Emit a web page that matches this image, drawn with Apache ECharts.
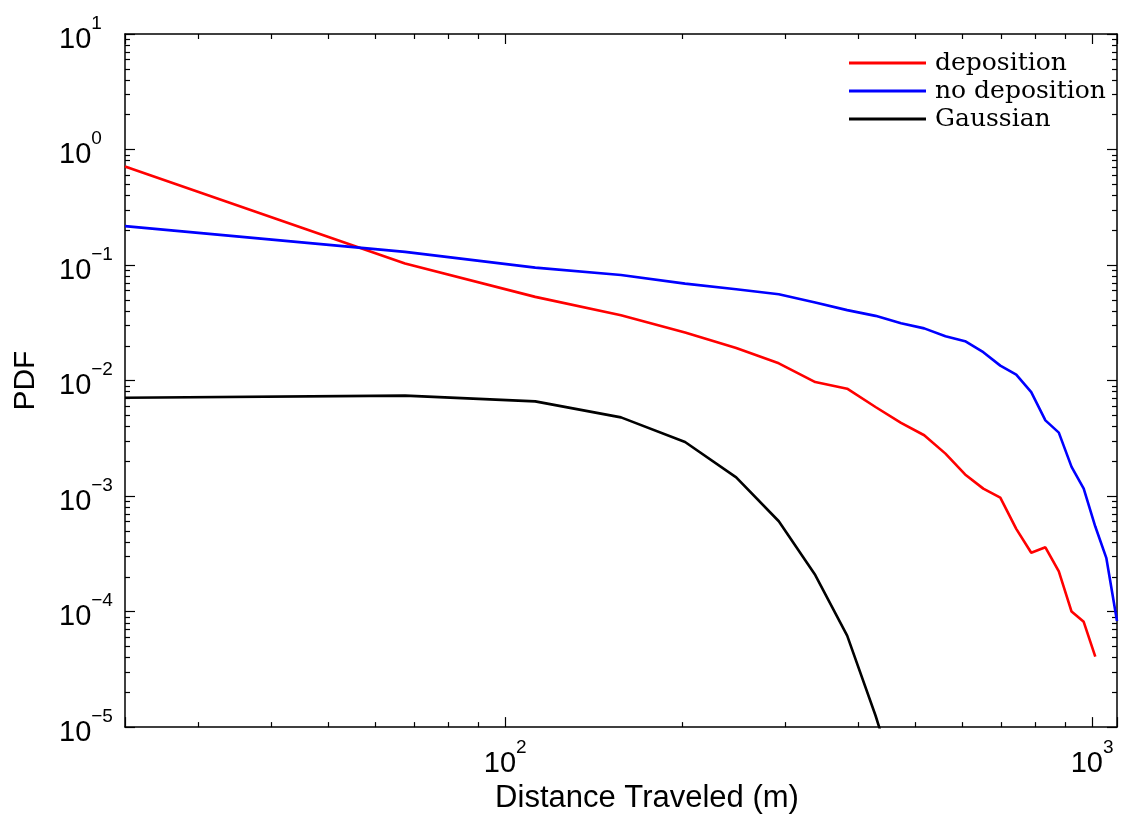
<!DOCTYPE html>
<html>
<head>
<meta charset="utf-8">
<script src="https://cdn.jsdelivr.net/npm/echarts@6/dist/echarts.min.js"></script>
<style>
  html, body { margin: 0; padding: 0; background: #fff; }
  #chart { width: 1127px; height: 819px; }
</style>
</head>
<body>
<div id="chart"></div>
<script>
// bin centres (m)
var distance = [22.5, 67.5, 112.5, 157.5, 202.5, 247.5, 292.5, 337.5, 382.5, 427.5, 472.5, 517.5,
    562.5, 607.5, 652.5, 697.5, 742.5, 787.5, 832.5, 877.5, 922.5, 967.5, 1012.5, 1057.5, 1102.5];

var deposition = [0.713, 0.103, 0.053, 0.0368, 0.0261, 0.0191, 0.0141, 0.0097, 0.0085, 0.0059, 0.0043, 0.00336,
    0.00233, 0.00154, 0.00116, 0.00097, 0.00052, 0.000323, 0.00036, 0.000223, 0.0001, 0.0000815, 0.0000407, null, null];

var noDeposition = [0.217, 0.130, 0.095, 0.082, 0.069, 0.0617, 0.0558, 0.0474, 0.0407, 0.0363, 0.0313, 0.0283,
    0.0242, 0.0219, 0.0176, 0.01346, 0.01127, 0.00794, 0.00452, 0.00354, 0.00179, 0.00116, 0.000545, 0.00029, 0.000083];

var gaussian = [0.0071, 0.0074, 0.0066, 0.0048, 0.00294, 0.00145, 0.000605, 0.000207, 0.000062, 0.0000126, 0.0000025,
    null, null, null, null, null, null, null, null, null, null, null, null, null, null];

var seriesNames = ['deposition', 'no deposition', 'Gaussian'];
var seriesColors = ['#ff0000', '#0000ff', '#000000'];

var xMin = 22.5, xMax = 1102.5;
var yMin = 1e-5, yMax = 10;

function pairs(arr) {
    return distance.map(function (x, i) {
        return [x, arr[i]];
    });
}

function powLabel(value) {
    var e = Math.round(Math.log10(value));
    var s = e < 0 ? '\u2212' + (-e) : '' + e;
    return '{b|10}{s|' + s + '}';
}

var labelRich = {
    b: { fontSize: 29, fontFamily: 'Liberation Sans', color: '#000', lineHeight: 40, verticalAlign: 'bottom' },
    s: { fontSize: 19, fontFamily: 'Liberation Sans', color: '#000', lineHeight: 22, verticalAlign: 'top' }
};

var axisLineStyle = { color: '#000', width: 1.5 };

function logAxis(pos, min, max, showLabel, extra) {
    var ax = {
        type: 'log',
        position: pos,
        min: min,
        max: max,
        logBase: 10,
        axisLine: { show: true, onZero: false, lineStyle: axisLineStyle },
        axisTick: { show: true, inside: true, length: 10, lineStyle: { color: '#000', width: 1.2 } },
        minorTick: { show: true, splitNumber: 9, length: 5, lineStyle: { color: '#000', width: 1.2 } },
        splitLine: { show: false },
        minorSplitLine: { show: false },
        axisLabel: {
            show: showLabel,
            formatter: powLabel,
            rich: labelRich,
            showMinLabel: false,
            showMaxLabel: false
        }
    };
    for (var k in extra) ax[k] = extra[k];
    return ax;
}

var chart = echarts.init(document.getElementById('chart'));

var xBottom = logAxis('bottom', xMin, xMax, true, {
    name: 'Distance Traveled (m)',
    nameLocation: 'middle',
    nameGap: 53,
    nameTextStyle: { fontSize: 31, fontFamily: 'Liberation Sans', color: '#000', padding: [0, 0, 0, 52] }
});
xBottom.axisLabel.margin = 11;

var yLeft = logAxis('left', yMin, yMax, true, {
    name: 'PDF',
    nameLocation: 'middle',
    nameGap: 84,
    nameTextStyle: { fontSize: 30, fontFamily: 'Liberation Sans', color: '#000' }
});
yLeft.axisLabel.showMinLabel = true;
yLeft.axisLabel.showMaxLabel = true;
yLeft.axisLabel.align = 'left';
yLeft.axisLabel.margin = 66;

var option = {
    animation: false,
    backgroundColor: '#fff',
    grid: { left: 125, right: 10, top: 34, bottom: 89, containLabel: false },
    legend: {
        orient: 'vertical',
        left: 849,
        top: 50,
        padding: 0,
        itemGap: 2,
        itemWidth: 77,
        itemHeight: 3,
        icon: 'rect',
        data: seriesNames,
        textStyle: {
            fontFamily: 'DejaVu Serif',
            fontSize: 25,
            color: '#000',
            lineHeight: 26,
            padding: [0, 0, 0, 4]
        }
    },
    xAxis: [xBottom, logAxis('top', xMin, xMax, false, {})],
    yAxis: [yLeft, logAxis('right', yMin, yMax, false, {})],
    series: [deposition, noDeposition, gaussian].map(function (arr, i) {
        return {
            name: seriesNames[i],
            type: 'line',
            xAxisIndex: 0,
            yAxisIndex: 0,
            symbol: 'none',
            showSymbol: false,
            clip: true,
            color: seriesColors[i],
            lineStyle: { color: seriesColors[i], width: 2.6 },
            data: pairs(arr)
        };
    })
};

chart.setOption(option);
</script>
</body>
</html>
